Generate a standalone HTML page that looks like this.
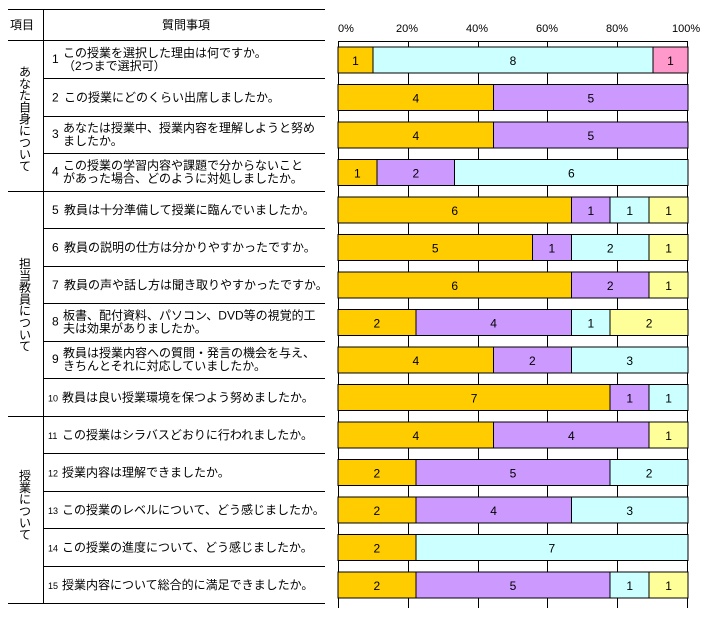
<!DOCTYPE html>
<html><head><meta charset="utf-8"><style>
body{margin:0;background:#fff}
svg text{font-family:"Liberation Sans","Noto Sans CJK JP",sans-serif;fill:#000}
</style></head><body>
<svg width="708" height="620" xmlns="http://www.w3.org/2000/svg" font-size="12">
<g stroke="#000" stroke-width="1" shape-rendering="crispEdges">
<line x1="8" y1="9.5" x2="325" y2="9.5"/>
<line x1="8" y1="40.5" x2="325" y2="40.5"/>
<line x1="8" y1="191.5" x2="325" y2="191.5"/>
<line x1="8" y1="416.5" x2="325" y2="416.5"/>
<line x1="8" y1="603.5" x2="325" y2="603.5"/>
<line x1="43.5" y1="9" x2="43.5" y2="604"/>
<line x1="43" y1="78.5" x2="325" y2="78.5"/>
<line x1="43" y1="116.5" x2="325" y2="116.5"/>
<line x1="43" y1="153.5" x2="325" y2="153.5"/>
<line x1="43" y1="228.5" x2="325" y2="228.5"/>
<line x1="43" y1="266.5" x2="325" y2="266.5"/>
<line x1="43" y1="303.5" x2="325" y2="303.5"/>
<line x1="43" y1="341.5" x2="325" y2="341.5"/>
<line x1="43" y1="378.5" x2="325" y2="378.5"/>
<line x1="43" y1="453.5" x2="325" y2="453.5"/>
<line x1="43" y1="491.5" x2="325" y2="491.5"/>
<line x1="43" y1="528.5" x2="325" y2="528.5"/>
<line x1="43" y1="566.5" x2="325" y2="566.5"/>
<line x1="408.5" y1="41" x2="408.5" y2="608"/>
<line x1="478.5" y1="41" x2="478.5" y2="608"/>
<line x1="547.5" y1="41" x2="547.5" y2="608"/>
<line x1="617.5" y1="41" x2="617.5" y2="608"/>
<line x1="338.5" y1="41" x2="338.5" y2="608"/>
<line x1="687.5" y1="41" x2="687.5" y2="608"/>
<line x1="338" y1="41.5" x2="688" y2="41.5"/>
</g>
<g font-size="11">
<text x="338" y="32">0%</text><text x="396" y="32">20%</text><text x="466" y="32">40%</text>
<text x="536" y="32">60%</text><text x="606" y="32">80%</text><text x="672" y="32">100%</text>
</g>
<text x="10" y="29">項目</text>
<text x="162" y="29">質問事項</text>
<g id="bars" stroke="#000" stroke-width="1" shape-rendering="crispEdges"></g>
<g id="lbl" font-size="12" text-anchor="middle"></g>
<g id="rows"></g>
<g id="vert" font-size="12" text-anchor="middle"></g>
</svg>
<script>
var C={o:"#FFCC00",p:"#CC99FF",c:"#CCFFFF",k:"#FF99CC",y:"#FFFF99"};
var D=[[[1,"o"],[8,"c"],[1,"k"]],[[4,"o"],[5,"p"]],[[4,"o"],[5,"p"]],[[1,"o"],[2,"p"],[6,"c"]],
[[6,"o"],[1,"p"],[1,"c"],[1,"y"]],[[5,"o"],[1,"p"],[2,"c"],[1,"y"]],[[6,"o"],[2,"p"],[1,"y"]],
[[2,"o"],[4,"p"],[1,"c"],[2,"y"]],[[4,"o"],[2,"p"],[3,"c"]],[[7,"o"],[1,"p"],[1,"c"]],
[[4,"o"],[4,"p"],[1,"y"]],[[2,"o"],[5,"p"],[2,"c"]],[[2,"o"],[4,"p"],[3,"c"]],[[2,"o"],[7,"c"]],
[[2,"o"],[5,"p"],[1,"c"],[1,"y"]]];
var NS="http://www.w3.org/2000/svg";
function el(p,t,a,tx){var e=document.createElementNS(NS,t);for(var k in a)e.setAttribute(k,a[k]);if(tx)e.textContent=tx;document.getElementById(p).appendChild(e);}
D.forEach(function(r,i){var top=41+37.5*i+6,h=26,tot=0;r.forEach(function(s){tot+=s[0]});var x=338;
r.forEach(function(s){var w=350*s[0]/tot;el("bars","rect",{x:x.toFixed(1),y:top.toFixed(1),width:w.toFixed(1),height:h,fill:C[s[1]]});
el("lbl","text",{x:(x+w/2).toFixed(1),y:(top+18).toFixed(1)},String(s[0]));x+=w;});});
var T=[["1","この授業を選択した理由は何ですか。","（2つまで選択可）"],["2","この授業にどのくらい出席しましたか。"],
["3","あなたは授業中、授業内容を理解しようと努め","ましたか。"],["4","この授業の学習内容や課題で分からないこと","があった場合、どのように対処しましたか。"],
["5","教員は十分準備して授業に臨んでいましたか。"],["6","教員の説明の仕方は分かりやすかったですか。"],
["7","教員の声や話し方は聞き取りやすかったですか。"],["8","板書、配付資料、パソコン、DVD等の視覚的工","夫は効果がありましたか。"],
["9","教員は授業内容への質問・発言の機会を与え、","きちんとそれに対応していましたか。"],["10","教員は良い授業環境を保つよう努めましたか。"],
["11","この授業はシラバスどおりに行われましたか。"],["12","授業内容は理解できましたか。"],
["13","この授業のレベルについて、どう感じましたか。"],["14","この授業の進度について、どう感じましたか。"],["15","授業内容について総合的に満足できましたか。"]];
T.forEach(function(t,i){var top=41+37.5*i;var nx=t[0].length>1?48:52;
el("rows","text",{x:nx,y:top+(t.length>2?22:23),"font-size":t[0].length>1?9:12},t[0]);
if(t.length>2){el("rows","text",{x:63,y:top+16},t[1]);el("rows","text",{x:63,y:top+29},t[2]);}
else el("rows","text",{x:t[0].length>1?62:64,y:top+23},t[1]);});
function vt(s,x,y0){for(var i=0;i<s.length;i++)el("vert","text",{x:x,y:y0+i*11.8},s[i]);}
vt("あなた自身について",25,76);vt("担当教員について",25,268);vt("授業について",25,480);
</script>
</body></html>
